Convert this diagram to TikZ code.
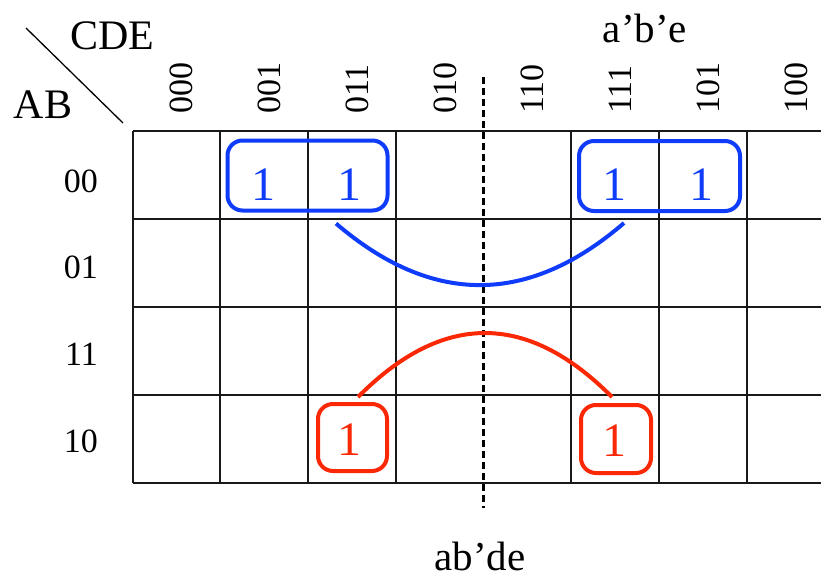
\documentclass[tikz,border=0pt]{standalone}
\usepackage{fontspec}
\setmainfont{Liberation Serif}
\usetikzlibrary{calc}
\definecolor{kblue}{RGB}{15,60,250}
\definecolor{kred}{RGB}{250,40,5}
\begin{document}
\begin{tikzpicture}[x=1pt,y=-1pt,
  gridline/.style={line width=2pt,black!90},
  grp/.style={draw, line width=4pt, rounded corners=15pt, inner sep=0pt},
  one/.style={font=\fontsize{48}{50}\selectfont, inner sep=0pt, anchor=base},
  code/.style={font=\fontsize{34}{40}\selectfont, inner sep=0pt, rotate=90, anchor=base west},
  rowlab/.style={font=\fontsize{34}{40}\selectfont, inner sep=0pt, anchor=base east},
  big/.style={font=\fontsize{42}{46}\selectfont, inner sep=0pt, anchor=base},
  mid/.style={font=\fontsize{41}{46}\selectfont, inner sep=0pt, anchor=base},
  link/.style={line width=4pt}
]
\useasboundingbox (0,0) rectangle (821,578);
\clip (0,0) rectangle (821,578);
% grid
\foreach \y in {131,219,307,395,483} \draw[gridline] (133,\y) -- (840,\y);
\foreach \x in {133,220,308,396,571,659,747} \draw[gridline] (\x,131) -- (\x,483);
% dashed separator
\draw[line width=3pt, dash pattern=on 7pt off 4pt] (483,77) -- (483,508);
% corner
\draw[line width=1.3pt] (26,28) -- (123,123);
\node[big] (cde) at (112.5,50) {CDE};
\node[big] (ab) at (43,118) {AB};
\node[mid] (t1) at (645,43) {a’b’e};
\node[mid] (t2) at (480,570) {ab’de};
% column codes
\node[code] (c1) at (192.5,114) {000};
\node[code] (c2) at (280,114) {001};
\node[code] (c3) at (368,114) {011};
\node[code] (c4) at (456,114) {010};
\node[code] (c5) at (543.5,114) {110};
\node[code] (c6) at (631,114) {111};
\node[code] (c7) at (719,114) {101};
\node[code] (c8) at (807,114) {100};
% row codes
\node[rowlab] (r00) at (98,192) {00};
\node[rowlab] (r01) at (98,278) {01};
\node[rowlab] (r11) at (98,365) {11};
\node[rowlab] (r10) at (98,452) {10};
% groups
\node[grp, kblue, minimum width=160pt, minimum height=70pt] (g1) at (307.5,175.5) {};
\node[grp, kblue, minimum width=161pt, minimum height=70pt] (g2) at (659.5,176) {};
\node[grp, kred, minimum width=69pt, minimum height=67pt] (h1) at (352.5,437.5) {};
\node[grp, kred, minimum width=70pt, minimum height=68pt] (h2) at (616,439) {};
% ones
\node[one, kblue] (o1) at (263,200) {1};
\node[one, kblue] (o2) at (349,200) {1};
\node[one, kblue] (o3) at (614,200) {1};
\node[one, kblue] (o4) at (701,200) {1};
\node[one, kred] (o5) at (349,455) {1};
\node[one, kred] (o6) at (614,456) {1};
% links
\draw[link, kblue] ($(g1.south)+(28.5,11)$) .. controls (432,305.7) and (528,305.7) .. ($(g2.south)+(-35.5,10)$);
\draw[link, kred] ($(h1.north)+(5.5,-5)$) .. controls (442.7,311.7) and (527.3,311.7) .. ($(h2.north)+(-4,-6)$);
\end{tikzpicture}
\end{document}
